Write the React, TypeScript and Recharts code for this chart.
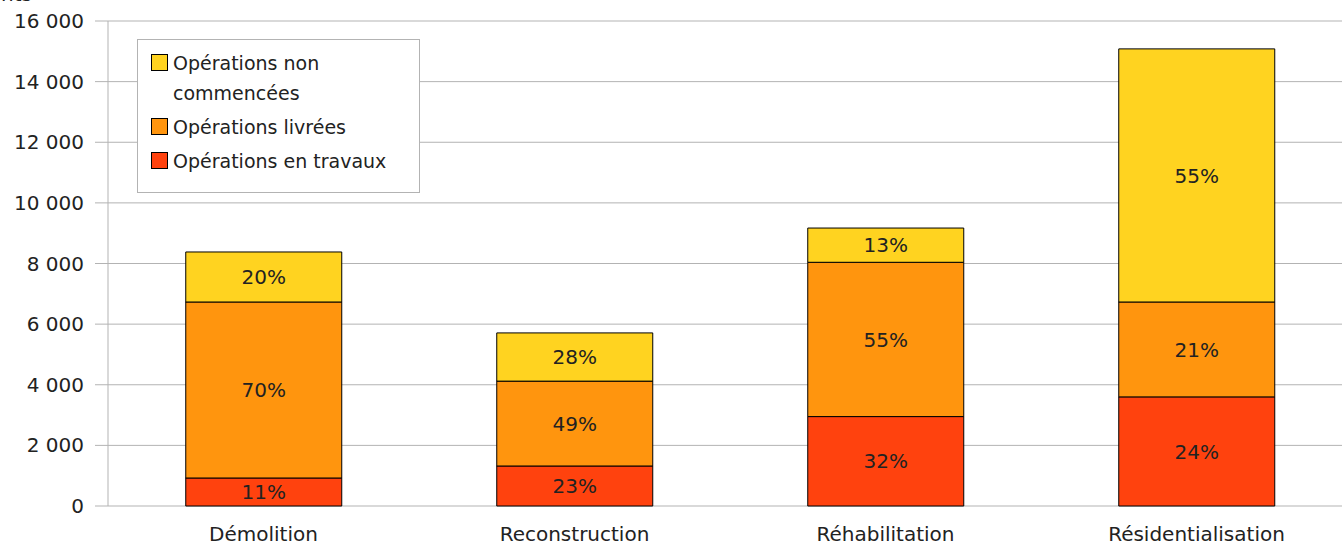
import React from "react";
import {
  BarChart,
  Bar,
  XAxis,
  YAxis,
  CartesianGrid,
  Legend,
  LabelList,
} from "recharts";

const categories = ["Démolition", "Reconstruction", "Réhabilitation", "Résidentialisation"];
const enTravaux = [924, 1320, 2950, 3600];
const livrees = [5806, 2800, 5090, 3130];
const nonCommencees = [1650, 1590, 1130, 8350];
const pctTravaux = ["11%", "23%", "32%", "24%"];
const pctLivrees = ["70%", "49%", "55%", "21%"];
const pctNonCommencees = ["20%", "28%", "13%", "55%"];
const yTicks = [0, 2000, 4000, 6000, 8000, 10000, 12000, 14000, 16000];
const edgeTicks = [0, 1, 2, 3, 4];

const data = categories.map((name, i) => ({
  name,
  travaux: enTravaux[i],
  livrees: livrees[i],
  non: nonCommencees[i],
  pT: pctTravaux[i],
  pL: pctLivrees[i],
  pN: pctNonCommencees[i],
}));

const FONT = '"DejaVu Sans", Verdana, sans-serif';
const GRID = "#b3b3b3";
const TEXT = "#222";

const fmt = (v: number) => String(v).replace(/\B(?=(\d{3})+(?!\d))/g, " ");

function LegendBox(props: any) {
  const items = [...(props.payload || [])].reverse();
  return (
    <div
      style={{
        border: `1px solid ${GRID}`,
        background: "#fff",
        width: 256,
        padding: "8px 12px 12px 13px",
        fontFamily: FONT,
        fontSize: 19,
        color: TEXT,
        lineHeight: "30px",
      }}
    >
      {items.map((it: any) => (
        <div key={it.value} style={{ display: "flex", marginBottom: 4 }}>
          <span
            style={{
              flex: "none",
              width: 15,
              height: 15,
              marginTop: 6,
              marginRight: 5,
              background: it.color,
              border: "1px solid #000",
            }}
          />
          <span>{it.value}</span>
        </div>
      ))}
    </div>
  );
}

export default function App() {
  return (
    <div
      style={{
        position: "absolute",
        left: 0,
        top: 0,
        width: 1342,
        height: 546,
        overflow: "hidden",
        background: "#fff",
        fontFamily: FONT,
      }}
    >
      <span
        style={{
          position: "absolute",
          right: 1342 - 32,
          top: -18,
          fontSize: 20,
          color: TEXT,
          whiteSpace: "nowrap",
        }}
      >
        Logements
      </span>
      <BarChart
        width={1360}
        height={546}
        data={data}
        margin={{ top: 21, right: 8, left: 0, bottom: 0 }}
        barCategoryGap="25%"
      >
        <CartesianGrid vertical={false} stroke={GRID} />
        <XAxis
          xAxisId="edge"
          type="number"
          domain={[0, 4]}
          ticks={edgeTicks}
          height={0}
          stroke={GRID}
          tickSize={10}
          tickFormatter={() => ""}
          axisLine={{ stroke: GRID }}
        />
        <XAxis
          xAxisId="cat"
          dataKey="name"
          height={40}
          axisLine={false}
          tickLine={false}
          tickSize={10}
          tickMargin={11}
          tick={{ fill: TEXT, fontSize: 20, fontFamily: FONT }}
          interval={0}
        />
        <YAxis
          width={108}
          domain={[0, 16000]}
          ticks={yTicks}
          tickFormatter={fmt}
          stroke={GRID}
          tickSize={13}
          tickMargin={11}
          tick={{ fill: TEXT, fontSize: 20, fontFamily: FONT }}
        />
        <Legend
          layout="vertical"
          align="center"
          verticalAlign="middle"
          wrapperStyle={{ left: 137, top: 39, width: "auto" }}
          content={<LegendBox />}
        />
        <Bar
          xAxisId="cat"
          dataKey="travaux"
          name="Opérations en travaux"
          stackId="a"
          fill="#ff420e"
          stroke="#000"
          strokeWidth={1}
          isAnimationActive={false}
        >
          <LabelList dataKey="pT" position="center" fill={TEXT} fontSize={20} fontFamily={FONT} />
        </Bar>
        <Bar
          xAxisId="cat"
          dataKey="livrees"
          name="Opérations livrées"
          stackId="a"
          fill="#ff950e"
          stroke="#000"
          strokeWidth={1}
          isAnimationActive={false}
        >
          <LabelList dataKey="pL" position="center" fill={TEXT} fontSize={20} fontFamily={FONT} />
        </Bar>
        <Bar
          xAxisId="cat"
          dataKey="non"
          name="Opérations non commencées"
          stackId="a"
          fill="#ffd320"
          stroke="#000"
          strokeWidth={1}
          isAnimationActive={false}
        >
          <LabelList dataKey="pN" position="center" fill={TEXT} fontSize={20} fontFamily={FONT} />
        </Bar>
      </BarChart>
    </div>
  );
}
